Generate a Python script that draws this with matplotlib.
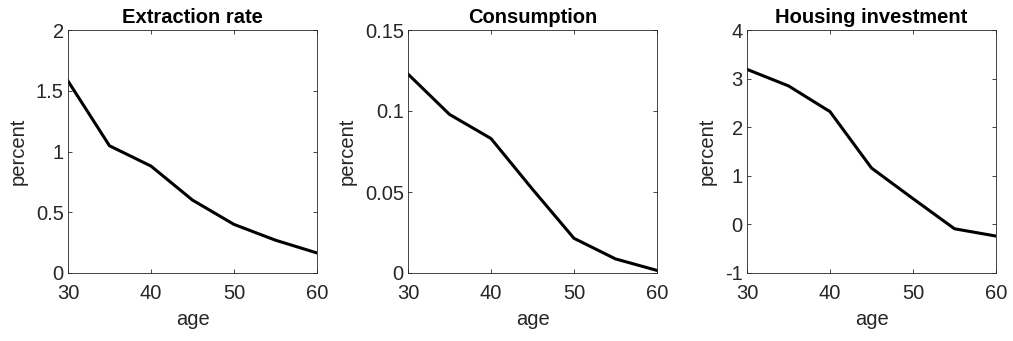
import numpy as np
import matplotlib
matplotlib.use("Agg")
import matplotlib.pyplot as plt

# Data
age = [30, 35, 40, 45, 50, 55, 60]
extraction = [1.58, 1.047, 0.88, 0.60, 0.40, 0.27, 0.165]
consumption = [0.1228, 0.0979, 0.083, 0.0517, 0.0214, 0.0087, 0.0016]
housing = [3.19, 2.85, 2.32, 1.16, 0.53, -0.09, -0.24]

titles = ["Extraction rate", "Consumption", "Housing investment"]
ylims = [(0, 2), (0, 0.15), (-1, 4)]
yticks = [[0, 0.5, 1, 1.5, 2], [0, 0.05, 0.1, 0.15], [-1, 0, 1, 2, 3, 4]]
yticklabels = [["0", "0.5", "1", "1.5", "2"],
               ["0", "0.05", "0.1", "0.15"],
               ["-1", "0", "1", "2", "3", "4"]]
xticks = [30, 40, 50, 60]

plt.rcParams["font.family"] = ["Liberation Sans", "DejaVu Sans"]
grey = "#262626"
fs = 14.5

fig = plt.figure(figsize=(10.13, 3.41), dpi=100)
W, H = 1013.0, 341.0
lefts = [68, 408, 747]  # pixel positions of axes
for i, series in enumerate([extraction, consumption, housing]):
    ax = fig.add_axes([lefts[i] / W, 1 - 273 / H, 249 / W, 243 / H])
    ax.plot(age, series, color="black", lw=2.2)
    ax.set_xlim(30, 60)
    ax.set_ylim(*ylims[i])
    ax.set_xticks(xticks)
    ax.set_yticks(yticks[i])
    ax.set_yticklabels(yticklabels[i])
    ax.set_title(titles[i], fontsize=fs, fontweight="bold", pad=5)
    ax.set_xlabel("age", fontsize=fs, color=grey, labelpad=5)
    ax.set_ylabel("percent", fontsize=fs, color=grey, labelpad=6)
    ax.tick_params(direction="in", top=True, right=True, labelsize=fs,
                   colors=grey, length=3, width=0.6)
    ax.tick_params(axis="x", pad=8)
    ax.tick_params(axis="y", pad=3)
    for sp in ax.spines.values():
        sp.set_color(grey)
        sp.set_linewidth(0.6)

fig.savefig("out.png", dpi=100, facecolor="white")
